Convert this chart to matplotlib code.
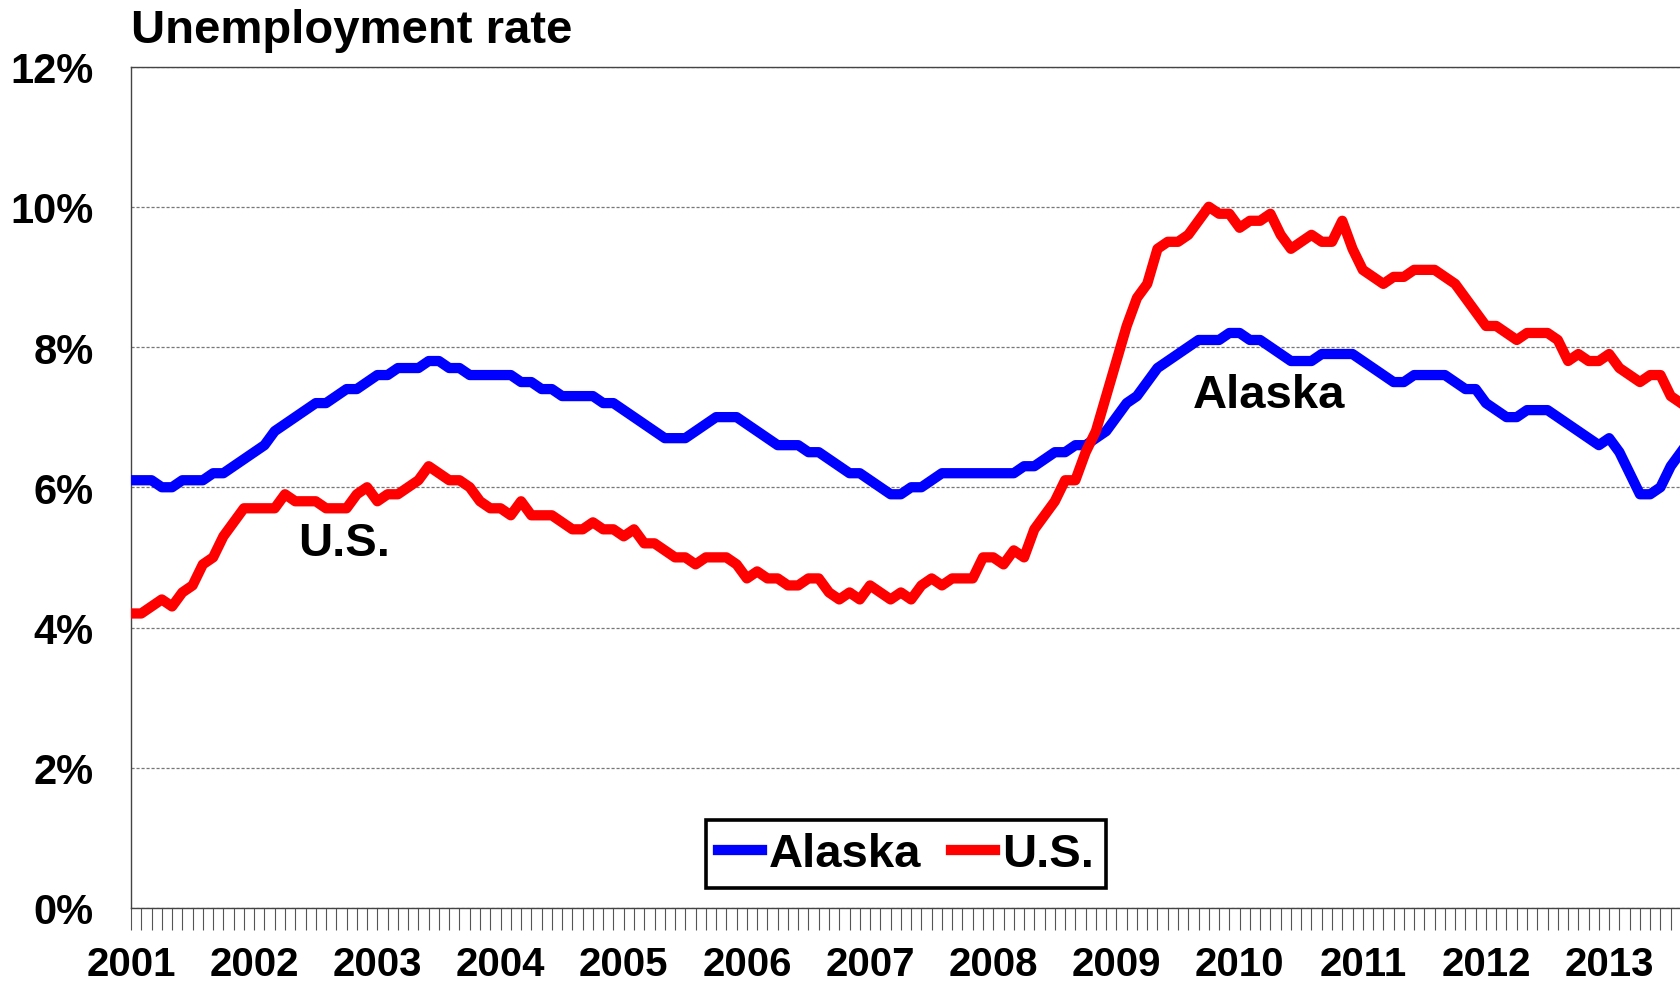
import matplotlib
matplotlib.use("Agg")
import matplotlib.pyplot as plt
import numpy as np

# monthly unemployment rate (%), Jan 2001 - Aug 2013
years = list(range(2001, 2014))

alaska = [6.1, 6.1, 6.1, 6.0, 6.0, 6.1, 6.1, 6.1, 6.2, 6.2, 6.3, 6.4,
          6.5, 6.6, 6.8, 6.9, 7.0, 7.1, 7.2, 7.2, 7.3, 7.4, 7.4, 7.5,
          7.6, 7.6, 7.7, 7.7, 7.7, 7.8, 7.8, 7.7, 7.7, 7.6, 7.6, 7.6,
          7.6, 7.6, 7.5, 7.5, 7.4, 7.4, 7.3, 7.3, 7.3, 7.3, 7.2, 7.2,
          7.1, 7.0, 6.9, 6.8, 6.7, 6.7, 6.7, 6.8, 6.9, 7.0, 7.0, 7.0,
          6.9, 6.8, 6.7, 6.6, 6.6, 6.6, 6.5, 6.5, 6.4, 6.3, 6.2, 6.2,
          6.1, 6.0, 5.9, 5.9, 6.0, 6.0, 6.1, 6.2, 6.2, 6.2, 6.2, 6.2,
          6.2, 6.2, 6.2, 6.3, 6.3, 6.4, 6.5, 6.5, 6.6, 6.6, 6.7, 6.8,
          7.0, 7.2, 7.3, 7.5, 7.7, 7.8, 7.9, 8.0, 8.1, 8.1, 8.1, 8.2,
          8.2, 8.1, 8.1, 8.0, 7.9, 7.8, 7.8, 7.8, 7.9, 7.9, 7.9, 7.9,
          7.8, 7.7, 7.6, 7.5, 7.5, 7.6, 7.6, 7.6, 7.6, 7.5, 7.4, 7.4,
          7.2, 7.1, 7.0, 7.0, 7.1, 7.1, 7.1, 7.0, 6.9, 6.8, 6.7, 6.6,
          6.7, 6.5, 6.2, 5.9, 5.9, 6.0, 6.3, 6.5]

us = [4.2, 4.2, 4.3, 4.4, 4.3, 4.5, 4.6, 4.9, 5.0, 5.3, 5.5, 5.7,
      5.7, 5.7, 5.7, 5.9, 5.8, 5.8, 5.8, 5.7, 5.7, 5.7, 5.9, 6.0,
      5.8, 5.9, 5.9, 6.0, 6.1, 6.3, 6.2, 6.1, 6.1, 6.0, 5.8, 5.7,
      5.7, 5.6, 5.8, 5.6, 5.6, 5.6, 5.5, 5.4, 5.4, 5.5, 5.4, 5.4,
      5.3, 5.4, 5.2, 5.2, 5.1, 5.0, 5.0, 4.9, 5.0, 5.0, 5.0, 4.9,
      4.7, 4.8, 4.7, 4.7, 4.6, 4.6, 4.7, 4.7, 4.5, 4.4, 4.5, 4.4,
      4.6, 4.5, 4.4, 4.5, 4.4, 4.6, 4.7, 4.6, 4.7, 4.7, 4.7, 5.0,
      5.0, 4.9, 5.1, 5.0, 5.4, 5.6, 5.8, 6.1, 6.1, 6.5, 6.8, 7.3,
      7.8, 8.3, 8.7, 8.9, 9.4, 9.5, 9.5, 9.6, 9.8, 10.0, 9.9, 9.9,
      9.7, 9.8, 9.8, 9.9, 9.6, 9.4, 9.5, 9.6, 9.5, 9.5, 9.8, 9.4,
      9.1, 9.0, 8.9, 9.0, 9.0, 9.1, 9.1, 9.1, 9.0, 8.9, 8.7, 8.5,
      8.3, 8.3, 8.2, 8.1, 8.2, 8.2, 8.2, 8.1, 7.8, 7.9, 7.8, 7.8,
      7.9, 7.7, 7.6, 7.5, 7.6, 7.6, 7.3, 7.2]

y_ticks = [0, 2, 4, 6, 8, 10, 12]

FONT = "Liberation Sans"
plt.rcParams['font.family'] = [FONT, 'DejaVu Sans']
plt.rcParams['font.weight'] = 'bold'

months = np.arange(len(us))

fig = plt.figure(figsize=(16.81, 9.87), dpi=100)
ax = fig.add_axes([131/1681, 78/987, 1550/1681, 841.5/987])

ax.plot(months, alaska, color='#0000FF', lw=7.4, solid_joinstyle='round', label='Alaska', zorder=3)
ax.plot(months, us, color='#FF0000', lw=7.4, solid_joinstyle='round', label='U.S.', zorder=4)

ax.set_xlim(0, len(us) - 1)
ax.set_ylim(0, 12)

# gridlines
ax.set_yticks(y_ticks)
ax.set_yticklabels(["%d%%" % v for v in y_ticks])
ax.yaxis.grid(True, color='#777777', lw=0.9, ls=(0, (2.5, 1.5)))
ax.set_axisbelow(True)
ax.tick_params(axis='y', length=0, pad=27, labelsize=30)

# months as minor ticks, years labelled
ax.set_xticks([12*k for k in range(len(years))])
ax.set_xticklabels([str(y) for y in years])
ax.set_xticks(months, minor=True)
ax.tick_params(axis='x', which='both', direction='out', length=15.5, width=0.8,
               color='#555555', pad=11, labelsize=29)

for s in ['left', 'bottom', 'top']:
    ax.spines[s].set_color('#444444')
    ax.spines[s].set_linewidth(1.0)
ax.spines['right'].set_visible(False)

fig.text(131/1681, 1 - 43/987, "Unemployment rate", fontsize=34, fontweight='bold',
         ha='left', va='baseline')

ax.text(16.3, 5.03, "U.S.", fontsize=34, fontweight='bold', ha='left', va='baseline')
ax.text(103.4, 7.15, "Alaska", fontsize=34, fontweight='bold', ha='left', va='baseline')

leg = ax.legend(loc='center', bbox_to_anchor=(0.5, 0.064), ncol=2, fontsize=34,
                handlelength=0.93, handletextpad=0.15, columnspacing=0.62,
                borderpad=0.25, fancybox=False, framealpha=1)
leg.get_frame().set_edgecolor('black')
leg.get_frame().set_linewidth(2.6)
for t in leg.get_texts():
    t.set_fontweight('bold')

fig.savefig("out.png", dpi=100)
